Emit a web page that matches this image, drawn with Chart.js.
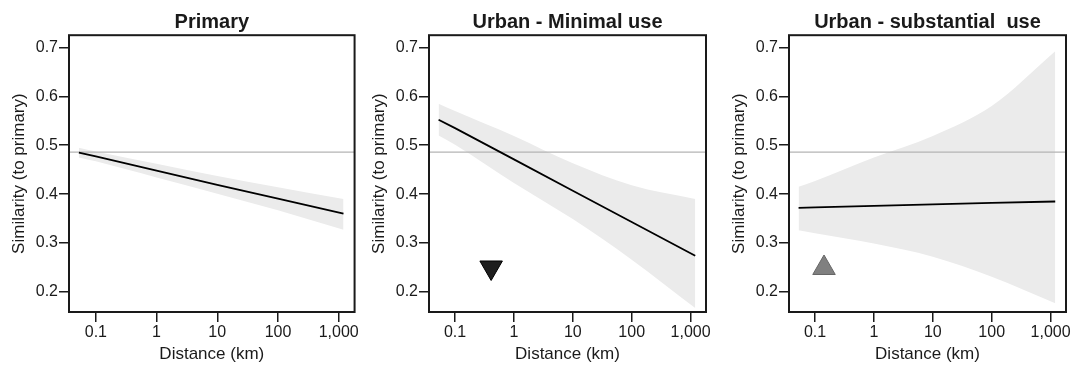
<!DOCTYPE html>
<html>
<head>
<meta charset="utf-8">
<script src="https://cdn.jsdelivr.net/npm/chart.js@4"></script>
<style>
  html, body { margin: 0; padding: 0; background: #fff; }
  #wrap { position: relative; width: 1083px; height: 365px; }
  #wrap canvas { position: absolute; top: 0; }
</style>
</head>
<body>
<div id="wrap">
  <canvas id="c1" width="360" height="365" style="left:0"></canvas>
  <canvas id="c2" width="360" height="365" style="left:360px"></canvas>
  <canvas id="c3" width="360" height="365" style="left:720px"></canvas>
</div>
<script>
// ---- data ----
const xTicks = [0.1, 1, 10, 100, 1000];
const xTickLabels = ["0.1", "1", "10", "100", "1,000"];
const yTicks = [0.2, 0.3, 0.4, 0.5, 0.6, 0.7];
const xMin = 0.0361, xMax = 1828;
const yMin = 0.159, yMax = 0.725;

const distance = [0.0525, 0.1, 1, 10, 100, 1200];
const refLevel = 0.486;

const primaryFit   = [0.485, 0.477, 0.448, 0.419, 0.391, 0.360];
const primaryUpper = [0.495, 0.487, 0.462, 0.437, 0.414, 0.390];
const primaryLower = [0.475, 0.467, 0.434, 0.401, 0.367, 0.327];

const minimalFit   = [0.552, 0.535, 0.471, 0.407, 0.343, 0.274];
const minimalUpper = [0.585, 0.570, 0.519, 0.463, 0.418, 0.390];
const minimalLower = [0.520, 0.501, 0.423, 0.349, 0.266, 0.167];

const substFit   = [0.372, 0.373, 0.376, 0.379, 0.382, 0.385];
const substUpper = [0.415, 0.427, 0.475, 0.519, 0.580, 0.692];
const substLower = [0.326, 0.320, 0.299, 0.272, 0.231, 0.177];

const minimalMarker = { x: 0.41, y: 0.250 };
const substMarker = { x: 0.142, y: 0.249 };

// ---- drawing ----
const ink = "#1a1a1a";
const FONT = "'Liberation Sans', Arial, sans-serif";

const boxPlugin = {
    id: "box",
    afterDatasetsDraw(chart) {
        const a = chart.chartArea, ctx = chart.ctx;
        ctx.save();
        ctx.strokeStyle = ink;
        ctx.lineWidth = 2;
        ctx.strokeRect(a.left, a.top, a.right - a.left, a.bottom - a.top);
        ctx.restore();
    }
};

const pts = ys => distance.map((x, i) => ({ x: x, y: ys[i] }));

function panel(id, title, fit, upper, lower, marker) {
    const datasets = [
        { data: pts(fit), borderColor: "#000", borderWidth: 1.8, pointRadius: 0, tension: 0, fill: false }
    ];
    if (marker) {
        datasets.push({
            data: [marker.x === undefined ? null : { x: marker.x, y: marker.y }],
            showLine: false,
            pointStyle: "triangle",
            pointRadius: 13,
            pointRotation: marker.down ? 180 : 0,
            backgroundColor: marker.fill,
            borderColor: marker.edge,
            borderWidth: 1
        });
    }
    datasets.push(
        { data: [{ x: xMin, y: refLevel }, { x: xMax, y: refLevel }], borderColor: "#b4b4b4", borderWidth: 1.3, pointRadius: 0, fill: false },
        { data: pts(upper), borderWidth: 0, pointRadius: 0, cubicInterpolationMode: "monotone", fill: "+1", backgroundColor: "#ebebeb" },
        { data: pts(lower), borderWidth: 0, pointRadius: 0, cubicInterpolationMode: "monotone", fill: false }
    );

    new Chart(document.getElementById(id), {
        type: "line",
        data: { datasets: datasets },
        plugins: [boxPlugin],
        options: {
            responsive: false,
            animation: false,
            layout: { padding: { left: 0, right: 4, top: 0, bottom: 0 } },
            plugins: {
                legend: { display: false },
                tooltip: { enabled: false },
                title: {
                    display: true, text: title, fullSize: false, color: ink,
                    font: { family: FONT, size: 20, weight: "bold" },
                    padding: { top: 10.5, bottom: 0.7 }
                }
            },
            scales: {
                x: {
                    type: "logarithmic", min: xMin, max: xMax,
                    afterBuildTicks: s => { s.ticks = xTicks.map(v => ({ value: v })); },
                    afterFit: s => { s.height = 53; },
                    border: { display: false },
                    grid: { drawOnChartArea: false, drawTicks: true, tickLength: 10, color: ink, lineWidth: 1.5 },
                    ticks: {
                        autoSkip: false, maxRotation: 0, padding: 1, color: ink,
                        font: { family: FONT, size: 16 },
                        callback: (v, i) => xTickLabels[i]
                    },
                    title: { display: true, text: "Distance (km)", color: ink, font: { family: FONT, size: 17 }, padding: { top: 0, bottom: 0.8 } }
                },
                y: {
                    type: "linear", min: yMin, max: yMax,
                    afterBuildTicks: s => { s.ticks = yTicks.map(v => ({ value: v })); },
                    afterFit: s => { s.width = 69; },
                    border: { display: false },
                    grid: { drawOnChartArea: false, drawTicks: true, tickLength: 10, color: ink, lineWidth: 1.5 },
                    ticks: {
                        padding: 1, color: ink,
                        font: { family: FONT, size: 16 },
                        callback: v => v.toFixed(1)
                    },
                    title: { display: true, text: "Similarity (to primary)", color: ink, font: { family: FONT, size: 17 }, padding: { top: 9.3, bottom: 0 } }
                }
            }
        }
    });
}

panel("c1", "Primary", primaryFit, primaryUpper, primaryLower, null);
panel("c2", "Urban - Minimal use", minimalFit, minimalUpper, minimalLower,
      { x: minimalMarker.x, y: minimalMarker.y, down: true, fill: "#1e1e1e", edge: "#000" });
panel("c3", "Urban - substantial  use", substFit, substUpper, substLower,
      { x: substMarker.x, y: substMarker.y, down: false, fill: "#808080", edge: "#666" });
</script>
</body>
</html>
